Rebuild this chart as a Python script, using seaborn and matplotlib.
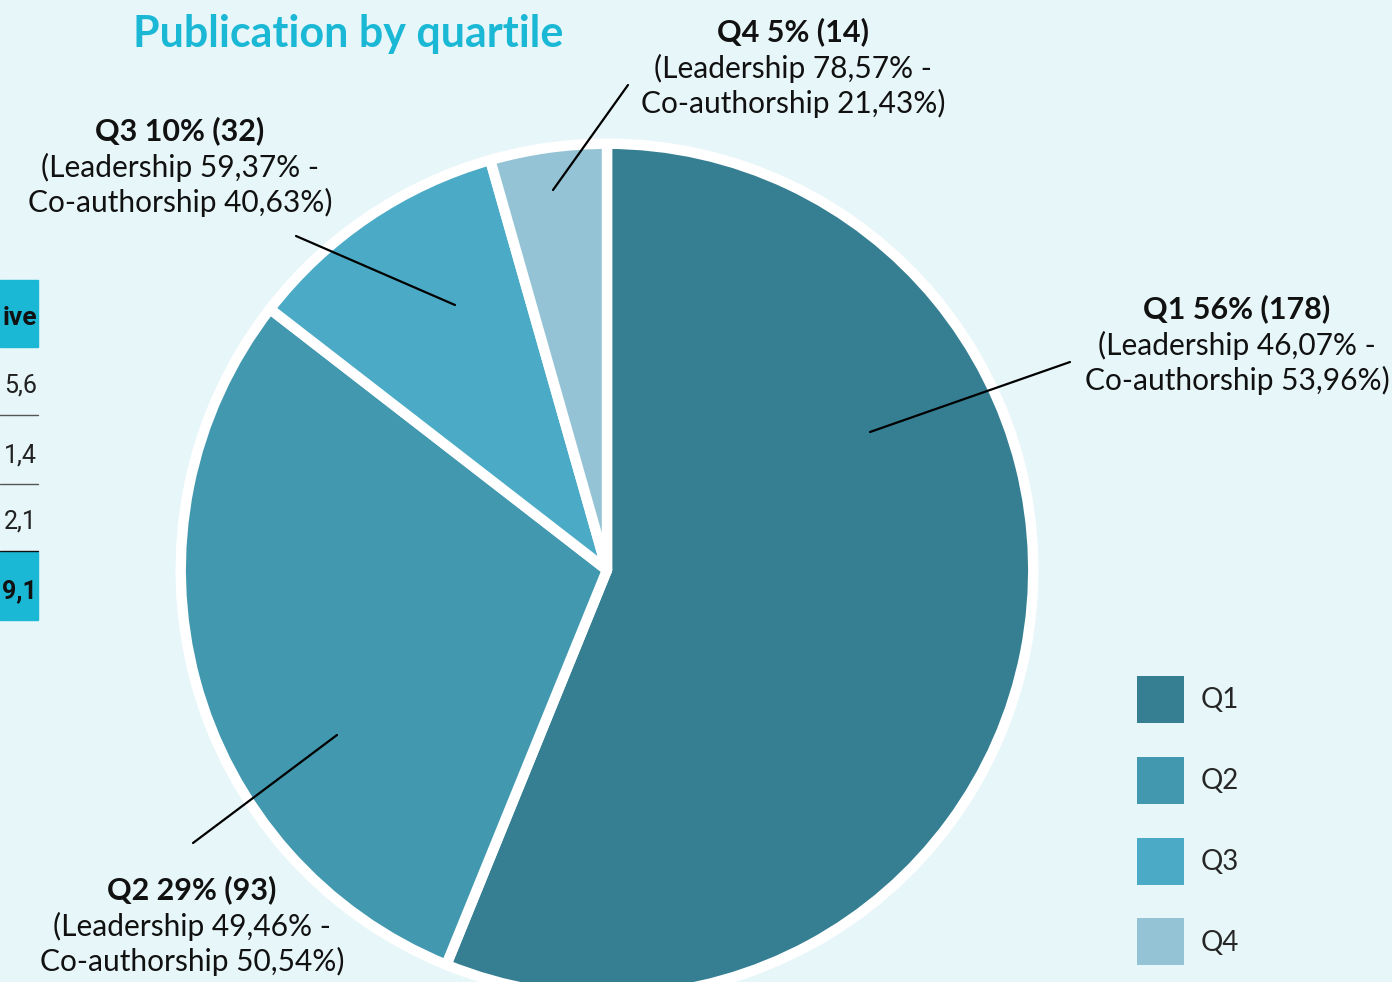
import matplotlib
matplotlib.use("Agg")
import matplotlib.pyplot as plt
from matplotlib.patches import Patch, Rectangle
from matplotlib.lines import Line2D
import seaborn as sns

# data
quartiles = ["Q1", "Q2", "Q3", "Q4"]
counts = [178, 93, 32, 14]
shares = [56, 29, 10, 5]
leadership = ["46,07%", "49,46%", "59,37%", "78,57%"]
coauthorship = ["53,96%", "50,54%", "40,63%", "21,43%"]
colors = ["#367F93", "#4198AF", "#4BABC6", "#93C3D4"]

# cropped table on the left edge (only the visible part)
table_head = "ive"
table_rows = ["5,6", "1,4", "2,1"]
table_total = "9,1"

BG = "#E7F6F9"
CYAN = "#1BB8D6"

sns.set_theme(style="white")
plt.rcParams["font.family"] = ["Lato", "DejaVu Sans"]

W, H = 1392, 982
fig = plt.figure(figsize=(W / 100, H / 100), dpi=100)
fig.patch.set_facecolor(BG)


def fx(x):
    return x / W


def fy(y):
    return 1 - y / H


# pie axes: center ~ (607, 570), radius ~ 422 px
cx, cy, r = 607, 570, 422
ax = fig.add_axes([fx(cx - r), fy(cy + r), 2 * r / W, 2 * r / H])
ax.set_facecolor("none")
wedges, _ = ax.pie(counts, colors=colors, startangle=90, counterclock=False,
                   wedgeprops=dict(edgecolor="white", linewidth=7.5, joinstyle="round"))
ax.set_xlim(-0.99, 0.99)
ax.set_ylim(-0.99, 0.99)
ax.set_aspect("equal")
ax.axis("off")

# title
fig.text(fx(348), fy(34), "Publication by quartile", color=CYAN, fontsize=31,
         fontweight="bold", ha="center", va="center")

# labels with leader lines
label_pos = {"Q1": (1237, 309), "Q2": (192, 890), "Q3": (180, 131), "Q4": (793, 32)}
leader = {"Q1": ((870, 432), (1070, 362)), "Q2": ((337, 735), (193, 843)),
          "Q3": ((455, 305), (296, 236)), "Q4": ((553, 190), (628, 85))}
for i, q in enumerate(quartiles):
    x, y = label_pos[q]
    fig.text(fx(x), fy(y), f"{q} {shares[i]}% ({counts[i]})", fontsize=22,
             fontweight="bold", ha="center", va="center", color="#111111")
    fig.text(fx(x), fy(y + 36), f"(Leadership {leadership[i]} -", fontsize=21.5,
             ha="center", va="center", color="#111111")
    fig.text(fx(x), fy(y + 71), f"Co-authorship {coauthorship[i]})", fontsize=21.5,
             ha="center", va="center", color="#111111")
    (x0, y0), (x1, y1) = leader[q]
    fig.add_artist(Line2D([fx(x0), fx(x1)], [fy(y0), fy(y1)], color="black", lw=1.6))

# legend
handles = [Patch(facecolor=c, edgecolor="none") for c in colors]
fig.legend(handles, quartiles, loc="upper left", bbox_to_anchor=(fx(1126), fy(665)),
           frameon=False, fontsize=20, handlelength=1.69, handleheight=2.22,
           labelspacing=1.22, handletextpad=0.6, borderaxespad=0)

# partial table at the left edge
fig.add_artist(Rectangle((0, fy(347)), fx(38), fy(280) - fy(347), color=CYAN,
                         transform=fig.transFigure))
fig.add_artist(Rectangle((0, fy(620)), fx(38), fy(552) - fy(620), color=CYAN,
                         transform=fig.transFigure))
tfont = ["Roboto", "DejaVu Sans"]
fig.text(fx(37), fy(318), table_head, fontsize=19, fontweight="bold", ha="right",
         va="center", family=tfont, color="#111111")
for yy, val in zip([386, 456, 522], table_rows):
    fig.text(fx(37), fy(yy), val, fontsize=18, ha="right", va="center",
             family=tfont, color="#222222")
fig.text(fx(37), fy(591), table_total, fontsize=18, fontweight="bold", ha="right",
         va="center", family=tfont, color="#111111")
for yy, col in [(415, "#555555"), (484, "#555555"), (551, "#111111")]:
    fig.add_artist(Line2D([0, fx(38)], [fy(yy), fy(yy)], color=col, lw=1.0))

fig.savefig("out.png", dpi=100, facecolor=BG)
